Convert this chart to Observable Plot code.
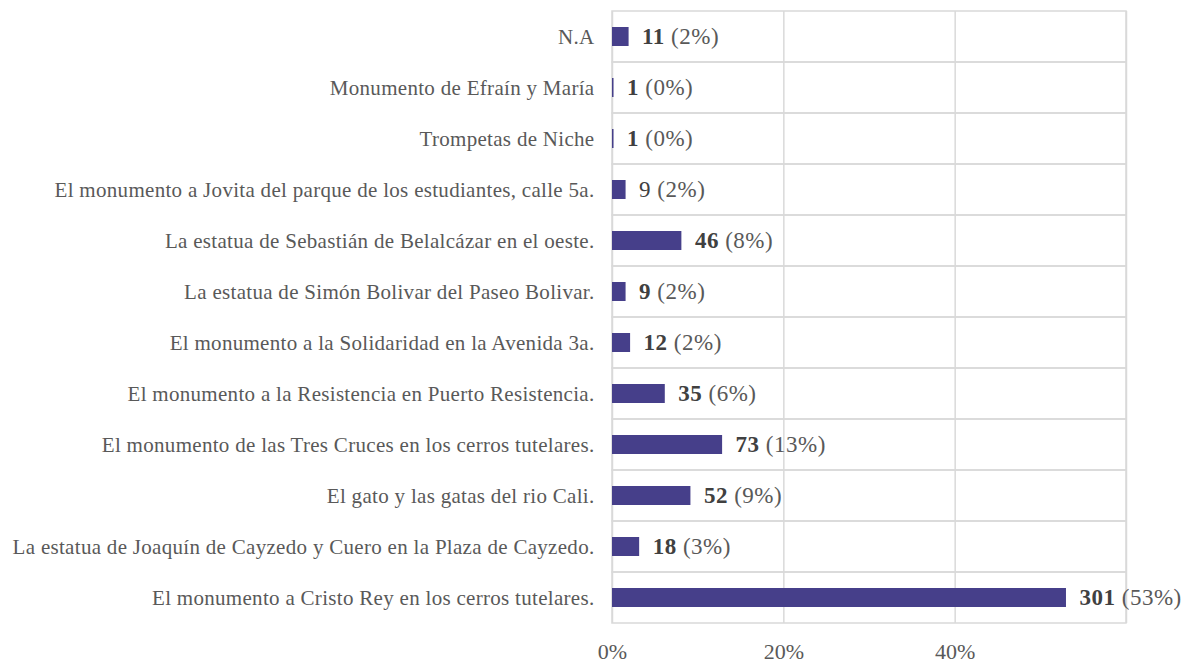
<!DOCTYPE html>
<html>
<head>
<meta charset="utf-8">
<script src="https://cdn.jsdelivr.net/npm/d3@7"></script>
<script src="https://cdn.jsdelivr.net/npm/@observablehq/plot@0.6"></script>
<style>
  html, body { margin: 0; padding: 0; background: #fff; font-family: "Liberation Serif", serif; }
  #chart { width: 1188px; height: 663px; }
</style>
</head>
<body>
<div id="chart"></div>
<script>
const categories = [
  "N.A",
  "Monumento de Efraín y María",
  "Trompetas de Niche",
  "El monumento a Jovita del parque de los estudiantes, calle 5a.",
  "La estatua de Sebastián de Belalcázar en el oeste.",
  "La estatua de Simón Bolivar del Paseo Bolivar.",
  "El monumento a la Solidaridad en la Avenida 3a.",
  "El monumento a la Resistencia en Puerto Resistencia.",
  "El monumento de las Tres Cruces en los cerros tutelares.",
  "El gato y las gatas del rio Cali.",
  "La estatua de Joaquín de Cayzedo y Cuero en la Plaza de Cayzedo.",
  "El monumento a Cristo Rey en los cerros tutelares."
];
const counts = [11, 1, 1, 9, 46, 9, 12, 35, 73, 52, 18, 301];
const xTicks = [0, 0.2, 0.4];
const gridValues = [0, 0.2, 0.4, 0.6];

const total = d3.sum(counts);
const data = categories.map((c, i) => ({
  category: c,
  count: counts[i],
  share: counts[i] / total,
  pct: Math.round(counts[i] / total * 100)
}));
// the reference shows the Jovita count in regular weight
const plainIndex = 3;
const FONT = "'Liberation Serif', 'Times New Roman', serif";

const chart = Plot.plot({
  width: 1188,
  height: 663,
  marginLeft: 612,
  marginRight: 62,
  marginTop: 11,
  marginBottom: 40,
  style: { fontFamily: FONT, fontSize: "21px", color: "#595959", background: "#fff" },
  x: { domain: [0, 0.6], ticks: xTicks, tickFormat: d3.format(".0%"), tickSize: 0, tickPadding: 20, label: null },
  y: { domain: categories, padding: 0, tickSize: 0, tickPadding: 18, label: null },
  marks: [
    Plot.barX(data, { y: "category", x1: 0, x2: 0.6, fill: "none", stroke: "#d9d9d9", strokeWidth: 1.5 }),
    Plot.ruleX(gridValues, { stroke: "#d9d9d9", strokeWidth: 1.5 }),
    Plot.barX(data, { y: "category", x: "share", fill: "#463f8a", insetTop: 16, insetBottom: 16 }),
    Plot.text(data, {
      y: "category", x: "share", dx: 13, textAnchor: "start",
      text: d => `${d.count}|(${d.pct}%)`,
      fill: "#404040", fontSize: 23, className: "value-labels"
    })
  ]
});

const svg = d3.select(chart);
svg.attr("font-family", FONT).style("font-family", FONT);
svg.selectAll(".value-labels text").each(function(d, i) {
  const el = d3.select(this);
  const [num, pct] = el.text().split("|");
  el.text(null);
  el.append("tspan").attr("font-weight", i === plainIndex ? "normal" : "bold").attr("fill", "#404040").text(num);
  el.append("tspan").attr("fill", "#595959").text(" " + pct);
});
svg.selectAll("text").attr("font-family", FONT).style("font-family", FONT);
svg.selectAll("[aria-label='y-axis tick label'] text").attr("letter-spacing", "0.3px");
svg.selectAll("[aria-label='x-axis tick label'] text").attr("font-size", "22px");
svg.selectAll(".value-labels text").attr("letter-spacing", "0.5px");

document.getElementById("chart").appendChild(chart);
</script>
</body>
</html>
